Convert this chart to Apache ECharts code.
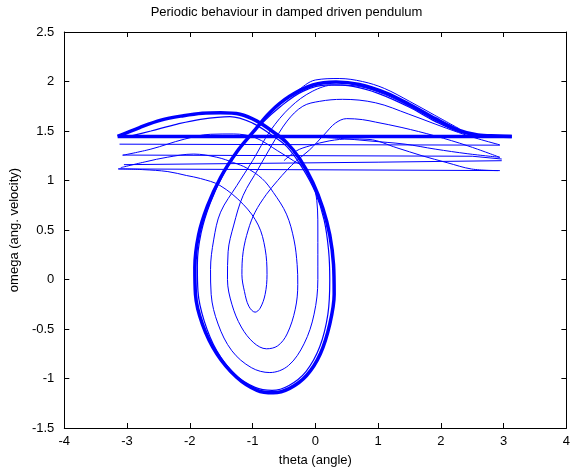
<!DOCTYPE html>
<html><head><meta charset="utf-8">
<script src="https://cdn.jsdelivr.net/npm/echarts@6/dist/echarts.min.js"></script>
<style>html,body{margin:0;padding:0;background:#fff}#c{width:573px;height:472px}</style>
</head><body><div id="c"></div>
<script>
var titleText = 'Periodic behaviour in damped driven pendulum';
var xName = 'theta (angle)';
var yName = 'omega (ang. velocity)';
var xTicks = [-4, -3, -2, -1, 0, 1, 2, 3, 4];
var yTicks = [-1.5, -1, -0.5, 0, 0.5, 1, 1.5, 2, 2.5];

// attractor (periodic orbit), drawn thick
var thickOrbit = [[-3.15,1.445],[-2.8,1.535],[-2.46,1.61],[-2.1,1.655],[-1.8,1.68],[-1.51,1.685],[-1.2,1.67],[-0.93,1.6],[-0.67,1.49],[-0.46,1.385],[-0.25,1.22],[-0.04,0.98],[0.12,0.72],[0.23,0.45],[0.29,0.15],[0.3,-0.15],[0.23,-0.45],[0.08,-0.75],[-0.14,-0.97],[-0.41,-1.1],[-0.67,-1.145],[-0.93,-1.12],[-1.25,-0.99],[-1.57,-0.75],[-1.8,-0.45],[-1.91,-0.15],[-1.92,0.12],[-1.86,0.45],[-1.72,0.74],[-1.51,1.03],[-1.25,1.29],[-0.99,1.49],[-0.72,1.69],[-0.41,1.85],[-0.04,1.965],[0.33,1.995],[0.70,1.97],[1.12,1.885],[1.54,1.755],[1.91,1.625],[2.28,1.51],[2.59,1.46],[2.9,1.45],[3.13,1.445]];
var thickWrap = [[3.13,1.445],[-3.15,1.445]];
// near-attractor passes
var companionLeft = [[-3.0,1.44],[-2.62,1.5],[-2.2,1.57],[-1.83,1.618],[-1.36,1.645],[-1.0,1.58],[-0.7,1.46],[-0.45,1.34],[-0.2,1.12],[0.0,0.88],[0.14,0.6],[0.21,0.3],[0.23,0.0],[0.2,-0.35],[0.07,-0.68],[-0.15,-0.93],[-0.42,-1.07],[-0.69,-1.12],[-0.96,-1.09],[-1.28,-0.96],[-1.57,-0.72],[-1.77,-0.42],[-1.87,-0.12],[-1.88,0.15],[-1.82,0.47],[-1.67,0.78],[-1.45,1.08],[-1.18,1.34],[-0.88,1.56],[-0.55,1.75],[-0.2,1.9],[0.2,1.965],[0.6,1.95],[1.0,1.88],[1.5,1.74],[1.9,1.6],[2.3,1.49],[2.7,1.45],[3.1,1.44]];
var companionTop = [[-0.6,1.77],[-0.3,1.9],[0.0,2.015],[0.38,2.03],[0.75,2.0],[1.1,1.93],[1.5,1.8],[1.9,1.66],[2.3,1.52]];
// transient passes
var teardropPass = [[-3.14,1.117],[-2.75,1.11],[-2.35,1.09],[-2.05,1.05],[-1.83,1.02],[-1.52,0.95],[-1.15,0.76],[-0.91,0.55],[-0.8,0.31],[-0.77,0.05],[-0.8,-0.15],[-0.88,-0.29],[-0.96,-0.33],[-1.06,-0.27],[-1.13,-0.12],[-1.17,0.05],[-1.15,0.28],[-1.07,0.5],[-0.96,0.68],[-0.78,0.86],[-0.6,1.0],[-0.46,1.1],[-0.3,1.2],[-0.09,1.31],[0.15,1.47],[0.32,1.58],[0.5,1.625],[0.75,1.615],[0.96,1.59],[1.38,1.535],[1.91,1.45],[2.43,1.35],[2.94,1.234]];
var smallHumpPass = [[-3.1,1.13],[-2.7,1.19],[-2.36,1.235],[-1.94,1.267],[-1.57,1.235],[-1.3,1.18],[-1.09,1.125],[-0.85,1.02],[-0.67,0.88],[-0.46,0.66],[-0.34,0.4],[-0.29,0.15],[-0.28,-0.05],[-0.32,-0.3],[-0.45,-0.55],[-0.6,-0.67],[-0.78,-0.7],[-0.98,-0.64],[-1.18,-0.48],[-1.33,-0.25],[-1.4,0.0],[-1.39,0.28],[-1.3,0.55],[-1.15,0.85],[-0.91,1.117],[-0.7,1.35],[-0.45,1.6],[-0.2,1.75],[0.07,1.8],[0.43,1.82],[0.96,1.785],[1.49,1.67],[1.91,1.57],[2.28,1.485],[2.6,1.42],[2.94,1.36]];
var risingPass = [[-3.07,1.255],[-2.62,1.317],[-2.09,1.417],[-1.67,1.467],[-1.3,1.47],[-0.95,1.43],[-0.6,1.3],[-0.35,1.2],[-0.15,1.117],[0.0,0.9],[0.04,0.5],[0.04,0.0],[-0.02,-0.35],[-0.18,-0.65],[-0.43,-0.87],[-0.725,-0.94],[-1.02,-0.89],[-1.33,-0.72],[-1.55,-0.45],[-1.66,-0.15],[-1.67,0.1],[-1.62,0.4],[-1.51,0.68],[-1.25,0.95],[-1.0,1.2],[-0.72,1.5],[-0.4,1.74],[-0.05,1.9],[0.3,1.965],[0.7,1.95],[1.1,1.87],[1.5,1.75],[1.9,1.61],[2.3,1.49],[2.7,1.45],[3.1,1.44]];
var lowHumpPass = [[-0.5,1.2],[-0.3,1.3],[-0.09,1.35],[0.22,1.4],[0.55,1.42],[0.855,1.415],[1.3,1.33],[1.7,1.25],[2.1,1.18],[2.49,1.116],[2.91,1.1]];
var midTail = [[0.0,1.44],[0.4,1.425],[0.855,1.4],[1.43,1.367],[1.91,1.317],[2.43,1.27],[2.94,1.234]];
// wrap-around lines (theta jumps from +pi to -pi)
var wrap1 = [[-3.12,1.367],[2.94,1.357]];
var wrap2 = [[-3.07,1.257],[2.5,1.245],[2.97,1.217]];
var wrap3 = [[-3.05,1.16],[1.0,1.185],[2.97,1.2]];
var wrap4 = [[-3.14,1.117],[2.94,1.1]];

var BLUE = '#0000ff';
function curve(data, w, smooth) {
  return { type: 'line', data: data, showSymbol: false, smooth: smooth ? 0.35 : false,
    lineStyle: { color: BLUE, width: w }, silent: true, animation: false, z: w > 2 ? 3 : 2 };
}
var series = [
  curve(thickOrbit, 3.5, true), curve(thickWrap, 3.5, false),
  curve(companionLeft, 1.2, true), curve(companionTop, 1, true),
  curve(teardropPass, 1, true), curve(smallHumpPass, 1, true), curve(risingPass, 1, true),
  curve(lowHumpPass, 1, true), curve(midTail, 1, true),
  curve(wrap1, 1, false), curve(wrap2, 1, false), curve(wrap3, 1, false), curve(wrap4, 1, false)
];
var FONT = 'Liberation Sans, Arial, sans-serif';
function xAx(pos, show) {
  return { type: 'value', position: pos, min: xTicks[0], max: xTicks[xTicks.length-1], interval: 1,
    axisLine: { show: true, onZero: false, lineStyle: { color: '#000', width: 1 } },
    axisTick: { show: true, inside: true, length: 5, lineStyle: { color: '#000' } },
    axisLabel: { show: show, color: '#000', fontSize: 13, fontFamily: FONT, margin: 7 },
    splitLine: { show: false },
    name: show ? xName : '', nameLocation: 'middle', nameGap: 26,
    nameTextStyle: { color: '#000', fontSize: 13, fontFamily: FONT } };
}
function yAx(pos, show) {
  return { type: 'value', position: pos, min: yTicks[0], max: yTicks[yTicks.length-1], interval: 0.5,
    axisLine: { show: true, onZero: false, lineStyle: { color: '#000', width: 1 } },
    axisTick: { show: true, inside: true, length: 5, lineStyle: { color: '#000' } },
    axisLabel: { show: show, color: '#000', fontSize: 13, fontFamily: FONT, margin: 10 },
    splitLine: { show: false },
    name: show ? yName : '', nameLocation: 'middle', nameGap: 39,
    nameTextStyle: { color: '#000', fontSize: 13, fontFamily: FONT } };
}
var chart = echarts.init(document.getElementById('c'), null, { renderer: 'canvas' });
chart.setOption({
  backgroundColor: '#fff',
  animation: false,
  title: { text: titleText, left: 'center', top: 6, padding: 0,
    textStyle: { color: '#000', fontSize: 13, fontWeight: 'normal', fontFamily: FONT } },
  grid: { left: 63, right: 4, top: 32, bottom: 41, containLabel: false },
  xAxis: [xAx('bottom', true), xAx('top', false)],
  yAxis: [yAx('left', true), yAx('right', false)],
  series: series
});
</script></body></html>
